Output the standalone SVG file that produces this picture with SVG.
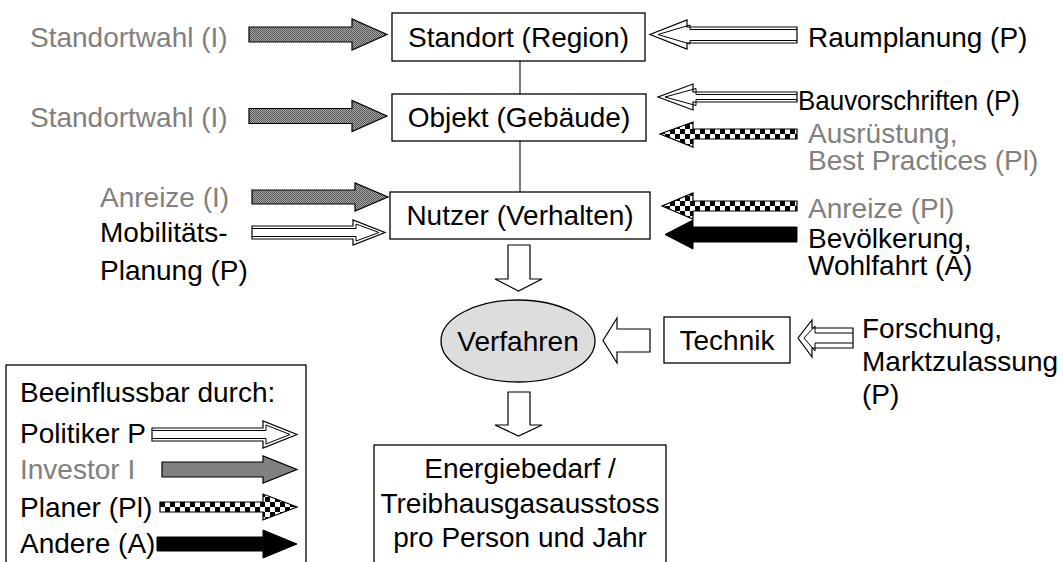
<svg xmlns="http://www.w3.org/2000/svg" width="1063" height="562" viewBox="0 0 1063 562">
<style>
text{font-family:"Liberation Sans",Arial,sans-serif;font-size:28px;fill:#000}
.g{fill:#808080}
.m{text-anchor:middle}
.box{fill:#fff;stroke:#000;stroke-width:1.3}
.ln{stroke:#333;stroke-width:1.3;fill:none}
.aw{fill:#fff;stroke:#000;stroke-width:1.2}
.in{fill:none;stroke:#000;stroke-width:1}
.ai{fill:url(#stip);stroke:#000;stroke-width:1.2}
.ak{fill:url(#chk);stroke:#000;stroke-width:1.2}
.ab{fill:#000;stroke:#000;stroke-width:1}
</style>
<defs>
<pattern id="stip" patternUnits="userSpaceOnUse" width="2" height="2">
<rect width="2" height="2" fill="#a8a8a8"/>
<rect width="1" height="1" fill="#555"/>
<rect x="1" y="1" width="1" height="1" fill="#555"/>
</pattern>
<pattern id="chk" patternUnits="userSpaceOnUse" width="10" height="10">
<rect width="10" height="10" fill="#fff"/>
<rect width="5" height="5" fill="#000"/>
<rect x="5" y="5" width="5" height="5" fill="#000"/>
</pattern>
</defs>

<g id="connectors">
<line class="ln" x1="520" y1="61" x2="520" y2="94"/>
<line class="ln" x1="520" y1="141" x2="520" y2="192"/>
<polygon class="ai" points="249,27 352,27 352,19 387,34.5 352,50 352,42 249,42"/>
<polygon class="ai" points="249,108.5 352,108.5 352,100.5 387,116 352,131.5 352,123.5 249,123.5"/>
<polygon class="ai" points="252,190 355,190 355,183 388,197 355,211 355,204 252,204"/>
<polygon class="aw" points="252,226 353,226 353,220 385,232.5 353,245 353,239 252,239"/>
<polyline class="in" points="252,228.5 356,228.5 356,224 379,232.5 356,241 356,236.5 252,236.5"/>
<polygon class="aw" points="797,27 687,27 687,20 650,34.5 687,49 687,43 797,43"/>
<polyline class="in" points="797,29.5 690,29.5 690,25 658,34.5 690,44 690,40.5 797,40.5"/>
<polygon class="aw" points="797,92 693,92 693,84 658,97 693,110 693,102 797,102"/>
<polyline class="in" points="797,94.5 696,94.5 696,88.5 665,97 696,105.5 696,99.5 797,99.5"/>
<g transform="translate(0,129)"><polygon class="ak" points="797,0 693,0 693,-7 660,5 693,18 693,10 797,10"/></g>
<g transform="translate(0,201)"><polygon class="ak" points="797,0 693,0 693,-8 662,5 693,18 693,10 797,10"/></g>
<polygon class="ab" points="797,227 693,227 693,220 665,234.5 693,249 693,242 797,242"/>
<polygon class="aw" points="508,245 530,245 530,279 542,279 518.5,291 495,279 508,279"/>
<polygon class="aw" points="508,392 530,392 530,425 542,425 518.5,436 495,425 508,425"/>
<polygon class="aw" points="650,329 617,329 617,318 603,340.5 617,363 617,352 650,352"/>
<polygon class="aw" points="853,328 812,328 812,320 798,338 812,357 812,348 853,348"/>
<polyline class="in" points="853,333 815,333 815,326 804,338 815,351 815,343 853,343"/>
</g>

<g id="standort">
<rect class="box" x="392" y="13" width="253" height="48"/>
<text class="m" x="518.5" y="47">Standort (Region)</text>
</g>
<g id="objekt">
<rect class="box" x="392" y="94" width="254" height="47"/>
<text class="m" x="519" y="127">Objekt (Gebäude)</text>
</g>
<g id="nutzer">
<rect class="box" x="390" y="192" width="260" height="47"/>
<text class="m" x="520" y="225">Nutzer (Verhalten)</text>
</g>
<g id="verfahren">
<ellipse cx="518" cy="341" rx="77" ry="41" fill="#dddddd" stroke="#000" stroke-width="1.3"/>
<text class="m" x="518" y="351">Verfahren</text>
</g>
<g id="technik">
<rect class="box" x="664" y="317" width="126" height="46"/>
<text class="m" x="727" y="350">Technik</text>
</g>
<g id="energie">
<rect class="box" x="374" y="445" width="292" height="130"/>
<text class="m" x="520" y="478">Energiebedarf /</text>
<text class="m" x="520" y="513">Treibhausgasausstoss</text>
<text class="m" x="520" y="547">pro Person und Jahr</text>
</g>

<g id="labels-left">
<text class="g" x="30" y="47">Standortwahl (I)</text>
<text class="g" x="30" y="127">Standortwahl (I)</text>
<text class="g" x="100" y="207">Anreize (I)</text>
<text x="100" y="242">Mobilitäts-</text>
<text x="100" y="280">Planung (P)</text>
</g>
<g id="labels-right">
<text x="808" y="47">Raumplanung (P)</text>
<text x="798" y="110" textLength="222" lengthAdjust="spacingAndGlyphs">Bauvorschriften (P)</text>
<text class="g" x="808" y="143">Ausrüstung,</text>
<text class="g" x="808" y="170">Best Practices (Pl)</text>
<text class="g" x="808" y="218">Anreize (Pl)</text>
<text x="808" y="248">Bevölkerung,</text>
<text x="808" y="275">Wohlfahrt (A)</text>
<text x="862" y="338">Forschung,</text>
<text x="862" y="371">Marktzulassung</text>
<text x="862" y="404">(P)</text>
</g>

<g id="legend">
<rect class="box" x="6" y="365" width="300" height="220"/>
<text x="20" y="402">Beeinflussbar durch:</text>
<text x="20" y="443">Politiker P</text>
<text class="g" x="20" y="479">Investor I</text>
<text x="20" y="517">Planer (Pl)</text>
<text x="20" y="553">Andere (A)</text>
<polygon class="aw" points="152,428 263,428 263,421 297,434.5 263,448 263,441 152,441"/>
<polyline class="in" points="152,430.5 266,430.5 266,425 290,434.5 266,444 266,438.5 152,438.5"/>
<polygon fill="#808080" stroke="#000" stroke-width="1.2" points="162,462 263,462 263,456 297,469.5 263,483 263,477 162,477"/>
<g transform="translate(0,502)"><polygon class="ak" points="160,0 263,0 263,-8 297,5 263,18 263,10 160,10"/></g>
<polygon class="ab" points="157,537 263,537 263,530 297,544 263,558 263,551 157,551"/>
</g>
</svg>
